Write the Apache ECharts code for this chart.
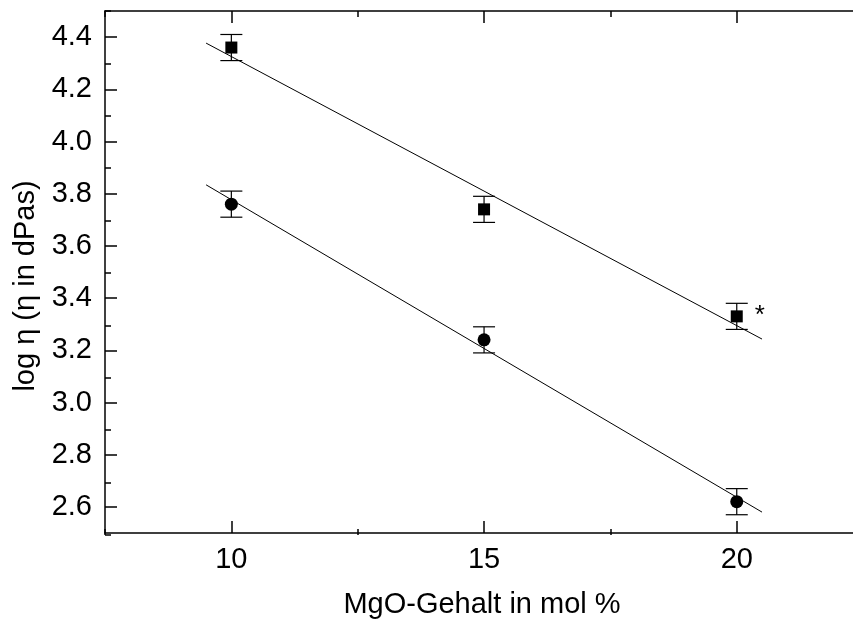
<!DOCTYPE html>
<html>
<head>
<meta charset="utf-8">
<script src="https://cdn.jsdelivr.net/npm/echarts@6/dist/echarts.min.js"></script>
<style>
html,body{margin:0;padding:0;background:#fff;}
#chart{width:853px;height:624px;}
</style>
</head>
<body>
<div id="chart"></div>
<script>
// ---- data ----
const mgo = [10, 15, 20];
const squareValues = [4.36, 3.74, 3.33];
const squareErrors = [0.05, 0.05, 0.05];
const squareNotes = ['', '', '*'];
const circleValues = [3.76, 3.24, 2.62];
const circleErrors = [0.05, 0.05, 0.05];
// fitted straight lines (end points)
const squareFitX = [9.5, 20.5];
const squareFitY = [4.377, 3.243];
const circleFitX = [9.5, 20.5];
const circleFitY = [3.834, 2.580];
// ticks
const xMajorTicks = [10, 15, 20];
const xMinorTicks = [7.5, 12.5, 17.5];
const yMajorTicks = [2.6, 2.8, 3.0, 3.2, 3.4, 3.6, 3.8, 4.0, 4.2, 4.4];
const yMinorTicks = [2.5, 2.7, 2.9, 3.1, 3.3, 3.5, 3.7, 3.9, 4.1, 4.3, 4.5];
const xTitle = 'MgO-Gehalt in mol %';
const yTitle = 'log \u03b7 (\u03b7 in dPas)';

const FONT = '"Liberation Sans", Arial, Helvetica, sans-serif';
const FS = 29;
const black = '#000';
const X_MIN = 7.5, X_MAX = 22.3, Y_MIN = 2.5, Y_MAX = 4.5;

function zip(a, b) { return a.map((v, i) => [v, b[i]]); }

const gridRect = { left: 105, right: 0, top: 11, bottom: 89, containLabel: false };

function xAx(gridIndex, position, ticks, len, opts) {
  return Object.assign({
    type: 'value', gridIndex, position, min: X_MIN, max: X_MAX,
    axisLine: { show: false },
    axisTick: { show: true, inside: true, length: len, customValues: ticks, lineStyle: { color: black, width: 1.5 } },
    axisLabel: { show: false },
    splitLine: { show: false }
  }, opts || {});
}
function yAx(gridIndex, position, ticks, len, opts) {
  return Object.assign({
    type: 'value', gridIndex, position, min: Y_MIN, max: Y_MAX,
    axisLine: { show: false },
    axisTick: { show: true, inside: true, length: len, customValues: ticks, lineStyle: { color: black, width: 1.5 } },
    axisLabel: { show: false },
    splitLine: { show: false }
  }, opts || {});
}

const axisLineStyle = { show: true, onZero: false, lineStyle: { color: black, width: 1.5 } };

const errorRender = function (params, api) {
  const x = api.value(0), y = api.value(1), e = api.value(2);
  const top = api.coord([x, y + e]);
  const bot = api.coord([x, y - e]);
  const hw = 11;
  const st = { stroke: black, lineWidth: 1.2 };
  return {
    type: 'group',
    children: [
      { type: 'line', shape: { x1: top[0], y1: top[1], x2: bot[0], y2: bot[1] }, style: st },
      { type: 'line', shape: { x1: top[0] - hw, y1: top[1], x2: top[0] + hw, y2: top[1] }, style: st },
      { type: 'line', shape: { x1: bot[0] - hw, y1: bot[1], x2: bot[0] + hw, y2: bot[1] }, style: st }
    ]
  };
};

const option = {
  animation: false,
  backgroundColor: '#fff',
  textStyle: { fontFamily: FONT, color: black },
  grid: [Object.assign({}, gridRect), Object.assign({}, gridRect)],
  xAxis: [
    xAx(0, 'bottom', xMajorTicks, 12, {
      axisLine: axisLineStyle,
      axisLabel: { show: true, customValues: xMajorTicks, margin: 12, fontSize: FS, color: black, fontFamily: FONT },
      name: xTitle, nameLocation: 'middle', nameGap: 57,
      nameTextStyle: { fontSize: FS, color: black, fontFamily: FONT, padding: [0, 0, 0, 6] }
    }),
    xAx(0, 'top', xMajorTicks, 12, { axisLine: axisLineStyle }),
    xAx(1, 'bottom', xMinorTicks, 6),
    xAx(1, 'top', xMinorTicks, 6)
  ],
  yAxis: [
    yAx(0, 'left', yMajorTicks, 12, {
      axisLine: axisLineStyle,
      axisLabel: { show: true, customValues: yMajorTicks, margin: 13, fontSize: FS, color: black, fontFamily: FONT,
        formatter: v => v.toFixed(1) },
      name: yTitle, nameLocation: 'middle', nameGap: 63, nameRotate: 90,
      nameTextStyle: { fontSize: FS, color: black, fontFamily: FONT, padding: [0, 28, 0, 0] }
    }),
    yAx(0, 'right', yMajorTicks, 2, { show: false }),
    yAx(1, 'left', yMinorTicks, 6),
    yAx(1, 'right', yMinorTicks, 0, { show: false })
  ],
  series: [
    {
      type: 'line', xAxisIndex: 0, yAxisIndex: 0,
      data: zip(squareFitX, squareFitY), showSymbol: false, symbol: 'none',
      lineStyle: { color: black, width: 1 }, z: 2
    },
    {
      type: 'line', xAxisIndex: 0, yAxisIndex: 0,
      data: zip(circleFitX, circleFitY), showSymbol: false, symbol: 'none',
      lineStyle: { color: black, width: 1 }, z: 2
    },
    {
      type: 'custom', xAxisIndex: 0, yAxisIndex: 0, renderItem: errorRender,
      data: mgo.map((x, i) => [x, squareValues[i], squareErrors[i]]), z: 3
    },
    {
      type: 'custom', xAxisIndex: 0, yAxisIndex: 0, renderItem: errorRender,
      data: mgo.map((x, i) => [x, circleValues[i], circleErrors[i]]), z: 3
    },
    {
      type: 'scatter', xAxisIndex: 0, yAxisIndex: 0, symbol: 'rect', symbolSize: 12,
      itemStyle: { color: black, opacity: 1 },
      data: zip(mgo, squareValues), z: 4,
      label: {
        show: true, position: 'right', distance: 12, offset: [0, -1],
        formatter: p => squareNotes[p.dataIndex], fontSize: 26, color: black, fontFamily: FONT
      }
    },
    {
      type: 'scatter', xAxisIndex: 0, yAxisIndex: 0, symbol: 'circle', symbolSize: 13,
      itemStyle: { color: black, opacity: 1 },
      data: zip(mgo, circleValues), z: 4
    }
  ]
};

const chart = echarts.init(document.getElementById('chart'), null, { renderer: 'canvas' });
chart.setOption(option);
</script>
</body>
</html>
